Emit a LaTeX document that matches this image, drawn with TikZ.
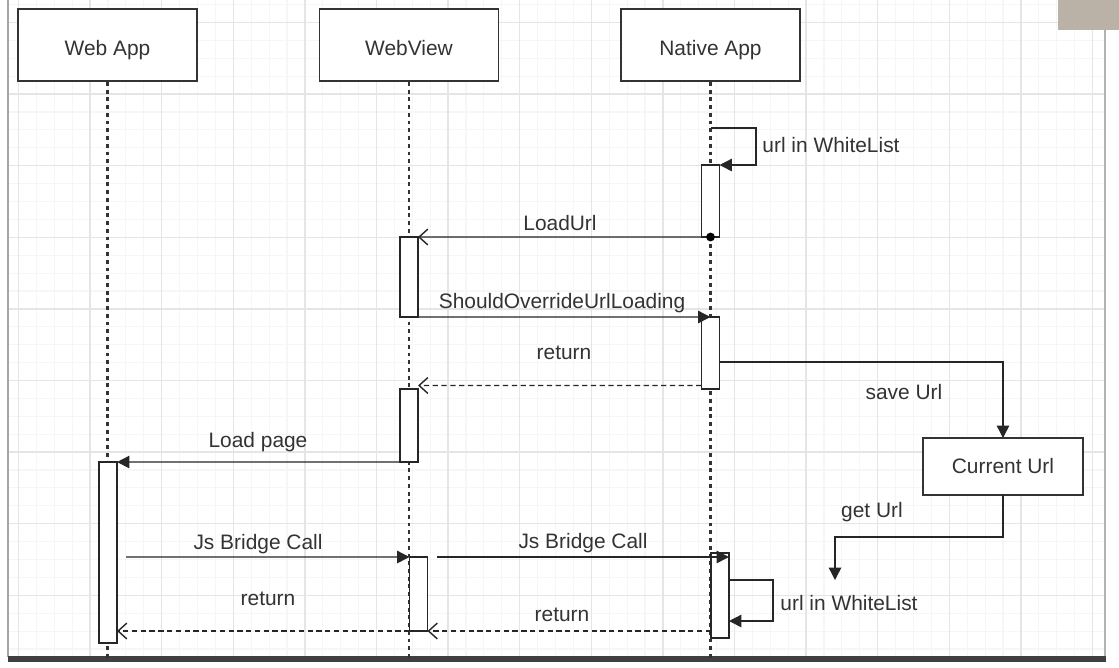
\documentclass[tikz,border=0pt]{standalone}
\usepackage{fontspec}
\setmainfont{Liberation Sans}
\usetikzlibrary{arrows.meta}
\definecolor{ink}{RGB}{51,51,51}
\definecolor{gridlo}{RGB}{246,246,246}
\definecolor{gridhi}{RGB}{229,229,229}
\definecolor{corner}{RGB}{186,178,166}
\begin{document}
\begin{tikzpicture}[x=0.02cm, y=-0.02cm, font=\fontsize{11.9}{14}\selectfont,
	actor/.style={draw=ink, line width=1.1pt, fill=white, minimum width=3.58cm, minimum height=1.44cm, text=ink, text height=12.5pt, text depth=0pt},
	act/.style={draw=black!85, line width=1pt, fill=white, minimum width=0.36cm, inner sep=0pt, outer sep=0pt},
	life/.style={line width=1.2pt, dash pattern=on 2.2pt off 2.2pt, black!80},
	msg/.style={line width=0.8pt, black!85, -{Triangle[length=7pt,width=7pt]}},
	ret/.style={line width=0.8pt, black!85, dash pattern=on 3pt off 2pt, -{Straight Barb[length=5pt,width=9pt]}},
	lbl/.style={text=ink, inner sep=0pt}]
	\useasboundingbox (0,0) rectangle (1119,667);
	% sheet and grid
	\fill[white] (0,0) rectangle (1119,667);
	\begin{scope}
		\clip (9,0) rectangle (1104,656);
		\foreach \i in {0,...,61} \draw[gridlo, line width=0.6pt] ({0.6+17.9*\i},0) -- ({0.6+17.9*\i},656);
		\foreach \i in {0,...,36} \draw[gridlo, line width=0.6pt] (9,{4.6+17.9*\i}) -- (1104,{4.6+17.9*\i});
		\foreach \i in {0,...,15} \draw[gridhi, line width=0.8pt] ({18.5+71.6*\i},0) -- ({18.5+71.6*\i},656);
		\foreach \i in {0,...,8} \draw[gridhi, line width=0.8pt] (9,{22.5+71.6*\i}) -- (1104,{22.5+71.6*\i});
	\end{scope}
	\draw[gray!70, line width=1.2pt] (8,0) -- (8,657);
	\draw[gray!60, line width=1.5pt] (1105,30) -- (1105,658);
	\draw[black!75, line width=3pt] (8,659) -- (1106,659);
	\fill[corner] (1058,0) rectangle (1119,30);

	% actors and lifelines
	\node[actor] (wa) at (107.5,45) {Web App};
	\node[actor] (wv) at (409,45) {WebView};
	\node[actor] (na) at (710.5,45) {Native App};
	\draw[life] (wa.south) -- ++(0,576);
	\draw[life] (wv.south) -- ++(0,576);
	\draw[life] (na.south) -- ++(0,576);

	% activations
	\node[act, minimum height=1.44cm] (na1) at (710.5,201) {};
	\node[act, minimum height=1.6cm] (wv1) at (409,277) {};
	\node[act, minimum height=1.44cm] (na2) at (710.5,353) {};
	\node[act, minimum height=1.46cm] (wv2) at (409,425.5) {};
	\node[act, minimum height=3.62cm] (wa1) at (108,552.5) {};
	\node[act, minimum height=1.48cm] (wv3) at (418.5,594) {};
	\node[act, minimum height=1.7cm] (na3) at (720,595.5) {};
	\node[draw=ink, line width=1.1pt, fill=white, text=ink, outer sep=0pt, minimum width=3.2cm, minimum height=1.14cm] (cur) at (1003,466.5) {Current Url};

	\coordinate (l1) at (711,128);
	\coordinate (s1) at (719,362);
	\coordinate (jb1) at (126,557);
	\coordinate (jb2) at (437,557);
	\coordinate (l2) at (729,580);
	\coordinate (l2e) at (729,621);
	\coordinate (g1) at (835,580);

	% messages
	\draw[msg] (l1) -- ++(45,0) |- (na1.north east);
	\node[lbl] (t1) at (831,145) {url in WhiteList};
	\draw[ret, solid] (na1.south west) -- (wv1.north east);
	\fill (na1.south) circle[radius=2.5pt];
	\node[lbl] (t2) at (560,223) {LoadUrl};
	\draw[msg] (wv1.south east) -- (na2.north);
	\node[lbl] (t3) at (562,303) {ShouldOverrideUrlLoading};
	\draw[ret] ([yshift=2pt]na2.south west) -- ([yshift=2pt]wv2.north east);
	\node[lbl] (t4) at (564,353) {return};
	\draw[msg] (s1) -| (cur.north);
	\node[lbl] (t5) at (904,392) {save Url};
	\draw[msg] (wv2.south west) -- (wa1.north east);
	\node[lbl] (t6) at (258,442) {Load page};
	\draw[msg] (cur.south) -- ++(0,42) -| (g1);
	\node[lbl] (t7) at (872,512) {get Url};
	\draw[msg] (jb1) -- (wv3.north west);
	\node[lbl] (t8) at (258,544) {Js Bridge Call};
	\draw[msg] (jb2) -- (jb2 -| na3.east);
	\node[lbl] (t9) at (583,543) {Js Bridge Call};
	\draw[msg] (l2) -- ++(44,0) |- (l2e);
	\node[lbl] (t10) at (849,603) {url in WhiteList};
	\draw[ret] (na3.west |- wv3.south) -- (wv3.south east);
	\node[lbl] (t11) at (562,615) {return};
	\draw[ret] (wv3.south west) -- (wa1.east |- wv3.south);
	\node[lbl] (t12) at (268,599) {return};
\end{tikzpicture}
\end{document}
